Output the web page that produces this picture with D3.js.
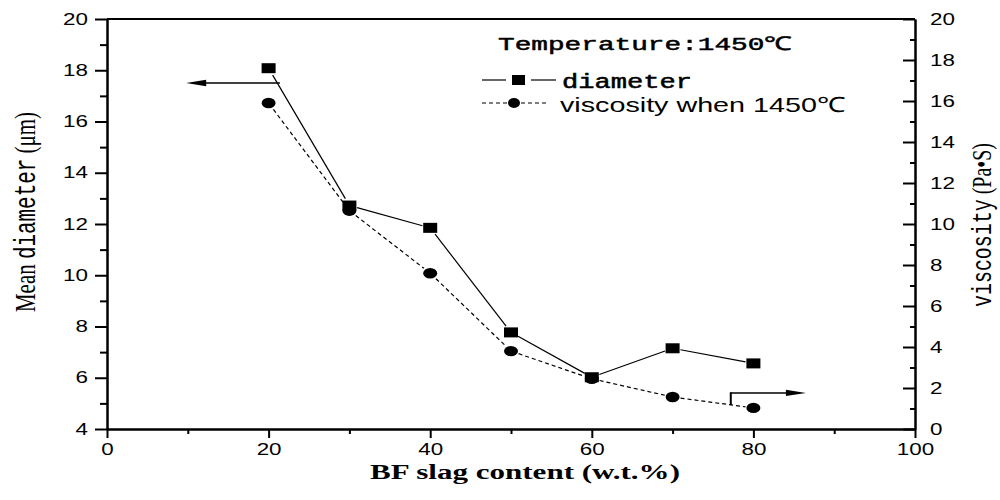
<!DOCTYPE html>
<html>
<head>
<meta charset="utf-8">
<script src="https://cdn.jsdelivr.net/npm/d3@7"></script>
<style>
  body { margin: 0; background: #fff; }
  svg { display: block; }
</style>
</head>
<body>
<div id="chart"></div>
<script>
const WIDTH = 1000;
const HEIGHT = 500;

// data
const slagContent = [20, 30, 40, 50, 60, 70, 80];
const diameter = [18.08, 12.72, 11.85, 7.77, 6.02, 7.15, 6.56];
const viscosity = [15.9, 10.65, 7.6, 3.8, 2.45, 1.56, 1.03];

const xTicks = [0, 20, 40, 60, 80, 100];
const leftTicks = [4, 6, 8, 10, 12, 14, 16, 18, 20];
const rightTicks = [0, 2, 4, 6, 8, 10, 12, 14, 16, 18, 20];

// annotation arrows, in data units
const leftArrow = { x1: 21.4, x2: 9.8, y: 17.5 };          // left axis
const rightArrow = { x1: 77.2, x2: 86.5, y: 1.76, yLow: 1.17 }; // right axis

const SX = 1.4; // the whole picture is stretched sideways
const plotLeft = 107, plotRight = 915, plotTop = 19, plotBottom = 429;

const svg = d3.select("#chart").append("svg")
    .attr("width", WIDTH)
    .attr("height", HEIGHT);

const x = d3.scaleLinear().domain([0, 100]).range([plotLeft, plotRight]);
const yL = d3.scaleLinear().domain([4, 20]).range([plotBottom, plotTop]);
const yR = d3.scaleLinear().domain([0, 20]).range([plotBottom, plotTop]);

// stretched text helper
function addText(str, px, py, opts = {}) {
    const t = svg.append("text")
        .attr("transform", `translate(${px},${py}) scale(${SX},1)` + (opts.rotate ? ` rotate(${opts.rotate})` : ""))
        .attr("font-family", opts.family || "'Liberation Sans', Arial, sans-serif")
        .attr("font-size", opts.size || 16)
        .attr("font-weight", opts.weight || "normal")
        .attr("text-anchor", opts.anchor || "start")
        .attr("fill", "#000");
    if (opts.stroke) t.attr("stroke", "#000").attr("stroke-width", opts.stroke);
    if (opts.length) t.attr("textLength", opts.length).attr("lengthAdjust", "spacingAndGlyphs");
    if (opts.parts) {
        opts.parts.forEach(p => t.append("tspan").attr("font-family", p.family).text(p.text));
    } else {
        t.text(str);
    }
    return t;
}

function styleAxis(g) {
    g.selectAll("path.domain").attr("stroke-width", 2);
    g.selectAll(".tick line").attr("stroke-width", 2);
}

// minor ticks first
const minorX = svg.append("g").attr("transform", `translate(0,${plotBottom})`)
    .call(d3.axisBottom(x).tickValues([10, 30, 50, 70, 90]).tickSize(5).tickFormat("").tickSizeOuter(0));
const minorL = svg.append("g").attr("transform", `translate(${plotLeft},0)`)
    .call(d3.axisLeft(yL).tickValues([5, 7, 9, 11, 13, 15, 17, 19]).tickSize(7).tickFormat("").tickSizeOuter(0));
const minorR = svg.append("g").attr("transform", `translate(${plotRight},0)`)
    .call(d3.axisRight(yR).tickValues([1, 3, 5, 7, 9, 11, 13, 15, 17, 19]).tickSize(-5).tickFormat("").tickSizeOuter(0));
[minorX, minorL, minorR].forEach(styleAxis);

// major axes
const xAxis = svg.append("g").attr("transform", `translate(0,${plotBottom})`)
    .call(d3.axisBottom(x).tickValues(xTicks).tickSize(9).tickPadding(6).tickSizeOuter(0));
const lAxis = svg.append("g").attr("transform", `translate(${plotLeft},0)`)
    .call(d3.axisLeft(yL).tickValues(leftTicks).tickSize(12).tickPadding(7).tickSizeOuter(0));
const rAxis = svg.append("g").attr("transform", `translate(${plotRight},0)`)
    .call(d3.axisRight(yR).tickValues(rightTicks).tickSize(-12).tickPadding(15).tickSizeOuter(0));
[xAxis, lAxis, rAxis].forEach(g => {
    styleAxis(g);
    g.selectAll("text")
        .attr("font-family", "'Liberation Sans', Arial, sans-serif")
        .attr("font-size", 16)
        .attr("fill", "#000");
});
xAxis.selectAll("text").attr("transform", `scale(${SX},1)`);
lAxis.selectAll("text").attr("x", -19 / SX).attr("transform", `scale(${SX},1)`);
rAxis.selectAll("text").attr("x", 15 / SX).attr("transform", `scale(${SX},1)`);

// top frame line
svg.append("line")
    .attr("x1", plotLeft).attr("x2", plotRight)
    .attr("y1", plotTop).attr("y2", plotTop)
    .attr("stroke", "#000").attr("stroke-width", 2);

// series lines, broken a little before each marker
function gapSegments(pts, gap) {
    const segs = [];
    for (let i = 0; i < pts.length - 1; i++) {
        const [ax, ay] = pts[i], [bx, by] = pts[i + 1];
        const len = Math.hypot(bx - ax, by - ay);
        const ux = (bx - ax) / len, uy = (by - ay) / len;
        segs.push([[ax + ux * gap, ay + uy * gap], [bx - ux * gap, by - uy * gap]]);
    }
    return segs;
}
const line = d3.line();

const diaPts = slagContent.map((d, i) => [x(d), yL(diameter[i])]);
const visPts = slagContent.map((d, i) => [x(d), yR(viscosity[i])]);

svg.append("g").selectAll("path")
    .data(gapSegments(diaPts, 8))
    .join("path")
    .attr("d", line)
    .attr("fill", "none")
    .attr("stroke", "#000")
    .attr("stroke-width", 1.2);

svg.append("g").selectAll("path")
    .data(gapSegments(visPts, 8))
    .join("path")
    .attr("d", line)
    .attr("fill", "none")
    .attr("stroke", "#000")
    .attr("stroke-width", 1.2)
    .attr("stroke-dasharray", "4,3");

svg.append("g").selectAll("ellipse")
    .data(visPts)
    .join("ellipse")
    .attr("cx", d => d[0])
    .attr("cy", d => d[1])
    .attr("rx", 7)
    .attr("ry", 5.2)
    .attr("fill", "#000");

svg.append("g").selectAll("rect")
    .data(diaPts)
    .join("rect")
    .attr("x", d => d[0] - 7)
    .attr("y", d => d[1] - 5)
    .attr("width", 14)
    .attr("height", 10)
    .attr("fill", "#000");

// arrows
function arrow(x1, x2, yy) {
    const dir = Math.sign(x2 - x1);
    svg.append("line")
        .attr("x1", x1).attr("x2", x2 - dir * 16)
        .attr("y1", yy).attr("y2", yy)
        .attr("stroke", "#000").attr("stroke-width", 1.5);
    svg.append("path")
        .attr("d", `M${x2},${yy} L${x2 - dir * 20},${yy - 3.2} L${x2 - dir * 20},${yy + 3.2} Z`)
        .attr("fill", "#000");
}
arrow(x(leftArrow.x1), x(leftArrow.x2), yL(leftArrow.y));
arrow(x(rightArrow.x1), x(rightArrow.x2), yR(rightArrow.y));
svg.append("line")
    .attr("x1", x(rightArrow.x1)).attr("x2", x(rightArrow.x1))
    .attr("y1", yR(rightArrow.y) - 0.7).attr("y2", yR(rightArrow.yLow))
    .attr("stroke", "#000").attr("stroke-width", 2);

// legend
const MONO = "'Liberation Mono', 'DejaVu Sans Mono', monospace";
const SERIF = "'Liberation Serif', 'Times New Roman', serif";
addText("Temperature:1450℃", 498, 50, { family: MONO, size: 19, stroke: 0.5, length: 294 / SX });

svg.append("line").attr("x1", 482).attr("x2", 506).attr("y1", 80).attr("y2", 80)
    .attr("stroke", "#000").attr("stroke-width", 1.2);
svg.append("line").attr("x1", 531).attr("x2", 556).attr("y1", 80).attr("y2", 80)
    .attr("stroke", "#000").attr("stroke-width", 1.2);
svg.append("rect").attr("x", 512).attr("y", 75).attr("width", 13).attr("height", 10).attr("fill", "#000");
addText("diameter", 562, 88, { family: MONO, size: 20, stroke: 0.5, length: 130 / SX });

svg.append("line").attr("x1", 482).attr("x2", 507).attr("y1", 103).attr("y2", 103)
    .attr("stroke", "#000").attr("stroke-width", 1.2).attr("stroke-dasharray", "4,3");
svg.append("line").attr("x1", 521).attr("x2", 548).attr("y1", 103).attr("y2", 103)
    .attr("stroke", "#000").attr("stroke-width", 1.2).attr("stroke-dasharray", "4,3");
svg.append("ellipse").attr("cx", 514).attr("cy", 103).attr("rx", 6).attr("ry", 5).attr("fill", "#000");
addText("viscosity when 1450℃", 560, 112, { size: 21, length: 285 / SX });

// axis titles
addText("BF slag content (w.t.%)", 525, 479, { family: SERIF, size: 20, weight: "bold", anchor: "middle", length: 310 / SX });

addText(null, 35, 212, {
    rotate: -90, size: 21, anchor: "middle", length: 200,
    parts: [
        { text: "Mean ", family: SERIF },
        { text: "diameter", family: MONO },
        { text: " (μm)", family: SERIF }
    ]
});

addText(null, 991, 225, {
    rotate: -90, size: 20, anchor: "middle", length: 164,
    parts: [
        { text: "viscosity", family: MONO },
        { text: " (Pa•S)", family: SERIF }
    ]
});
</script>
</body>
</html>
